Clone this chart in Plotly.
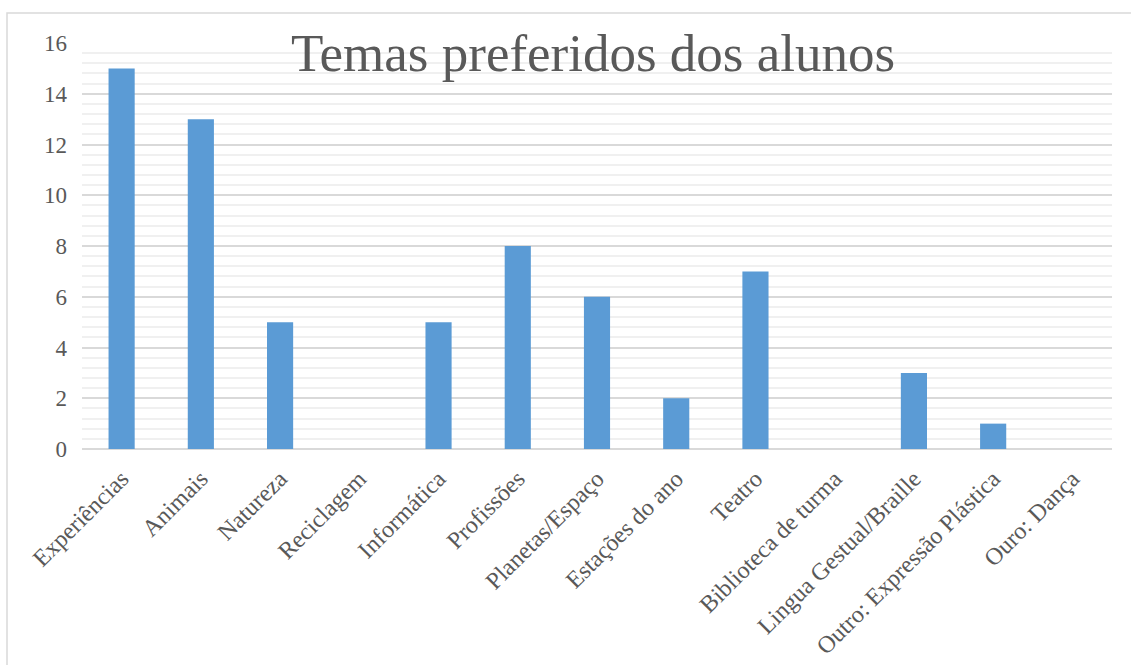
import plotly.graph_objects as go

temas = ["Experiências", "Animais", "Natureza", "Reciclagem", "Informática",
         "Profissões", "Planetas/Espaço", "Estações do ano", "Teatro",
         "Biblioteca de turma", "Lingua Gestual/Braille",
         "Outro: Expressão Plástica", "Ouro: Dança"]
alunos = [15, 13, 5, 0, 5, 8, 6, 2, 7, 0, 3, 1, 0]
y_ticks = [0, 2, 4, 6, 8, 10, 12, 14, 16]

W, H = 1131, 665
L, R, T, B = 82, 19, 43, 216
pw, ph = W - L - R, H - T - B

def px_x(x):
    return (x - L) / pw

def px_y(y):
    return (H - B - y) / ph

fig = go.Figure(go.Bar(
    x=temas, y=alunos, marker=dict(color="#5b9bd5", line=dict(width=0)),
    width=0.33,
))

font = "Liberation Serif, Times New Roman, serif"
grey = "#595959"

fig.update_layout(
    width=W, height=H,
    margin=dict(l=L, r=R, t=T, b=B),
    paper_bgcolor="white", plot_bgcolor="white",
    font=dict(family=font, color=grey, size=23),
    showlegend=False,
    title=dict(text="Temas preferidos dos alunos", xref="container",
               x=593 / W, xanchor="center",
               y=1 - 52 / H, yanchor="middle",
               font=dict(size=53, family=font, color=grey)),
    xaxis=dict(tickangle=-45, tickfont=dict(size=24, color=grey), automargin=False,
               showgrid=False, showline=False, ticks="", ticklabelstandoff=10),
    yaxis=dict(range=[0, 16], tickvals=y_ticks, tickfont=dict(size=23, color=grey),
               automargin=False,
               showgrid=True, gridcolor="#d9d9d9", gridwidth=2,
               zeroline=True, zerolinecolor="#d9d9d9", zerolinewidth=2,
               ticks="", ticklabelstandoff=14,
               minor=dict(dtick=0.4, tick0=0, showgrid=True,
                          gridcolor="#f0f0f0", gridwidth=2)),
    shapes=[dict(type="rect", xref="paper", yref="paper",
                 x0=px_x(7), x1=px_x(1140), y0=px_y(675), y1=px_y(13),
                 line=dict(color="#d9d9d9", width=1.5), layer="below")],
)

fig.write_html("out.html")
